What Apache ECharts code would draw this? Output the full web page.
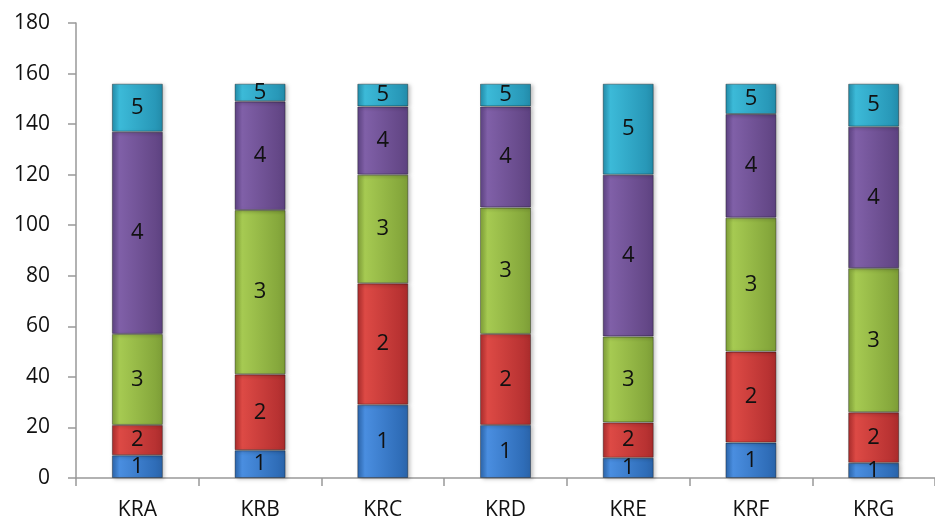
<!DOCTYPE html>
<html><head><meta charset="utf-8">
<script src="https://cdn.jsdelivr.net/npm/echarts@6/dist/echarts.min.js"></script>
<style>html,body{margin:0;padding:0;background:#fff}#c{width:935px;height:523px}</style>
</head><body><div id="c"></div>
<script>
var categories = ['KRA','KRB','KRC','KRD','KRE','KRF','KRG'];
var s1 = [9, 11, 29, 21, 8, 14, 6];
var s2 = [12, 30, 48, 36, 14, 36, 20];
var s3 = [36, 65, 43, 50, 34, 53, 57];
var s4 = [80, 43, 27, 40, 64, 41, 56];
var s5 = [19, 7, 9, 9, 36, 12, 17];
var seriesNames = ['1','2','3','4','5'];
var yTicks = {min: 0, max: 180, interval: 20};

var colors = [
  ['#2f6db8','#4a8ee0','#2a63a8'],
  ['#b83232','#dd4a45','#a82b2b'],
  ['#86a83c','#a6ca52','#7c9c36'],
  ['#654888','#8060a8','#5c4180'],
  ['#2898b8','#3cbad8','#228aa8']
];
function grad(c){
  return new echarts.graphic.LinearGradient(0,0,1,0,[
    {offset:0,color:c[2]},{offset:0.15,color:c[1]},{offset:0.85,color:c[0]},{offset:1,color:c[2]}
  ]);
}
var data = [s1,s2,s3,s4,s5];
var series = data.map(function(d,i){
  return {
    name: seriesNames[i], type:'bar', stack:'t', data:d, barWidth:51,
    itemStyle:{color:grad(colors[i]), borderColor:'rgba(0,0,0,0.35)', borderWidth:1,
      shadowColor:'rgba(0,0,0,0.25)', shadowBlur:4, shadowOffsetX:2, shadowOffsetY:1},
    label:{show:true, position:'inside', formatter:seriesNames[i], color:'#111',
      fontFamily:'Open Sans', fontSize:22}
  };
});
var chart = echarts.init(document.getElementById('c'));
chart.setOption({
  animation:false,
  grid:{left:76, right:-9, top:23, bottom:45},
  xAxis:{type:'category', data:categories,
    axisLine:{lineStyle:{color:'#999', width:1.5}},
    axisTick:{show:true, length:8, lineStyle:{color:'#999', width:1.5}},
    axisLabel:{color:'#111', fontFamily:'Open Sans', fontSize:21, margin:22}},
  yAxis:{type:'value', min:yTicks.min, max:yTicks.max, interval:yTicks.interval,
    splitLine:{show:false},
    axisLine:{show:true, lineStyle:{color:'#999', width:1.5}},
    axisTick:{show:true, length:8, lineStyle:{color:'#999', width:1.5}},
    axisLabel:{color:'#111', fontFamily:'Open Sans', fontSize:21, margin:26}},
  series: series
});
</script></body></html>
